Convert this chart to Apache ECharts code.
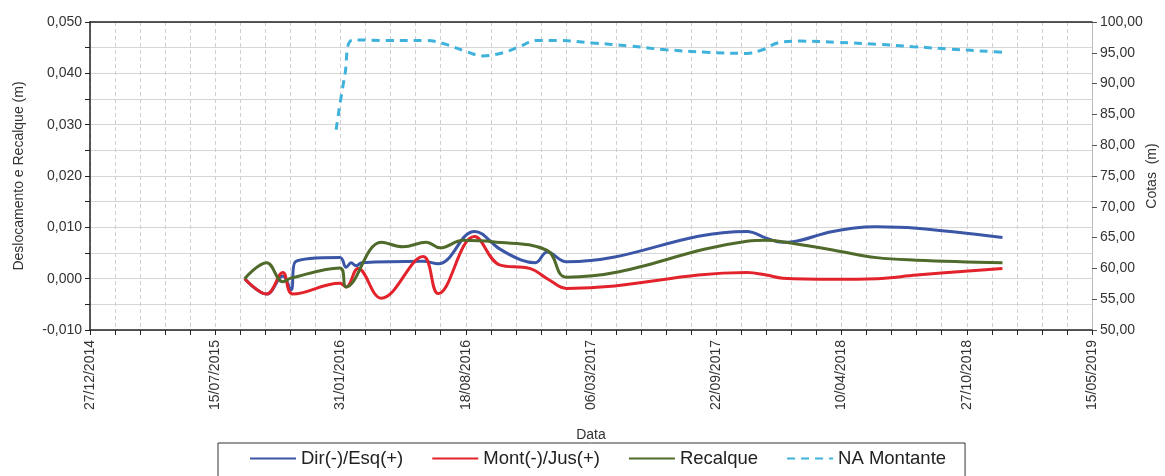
<!DOCTYPE html>
<html>
<head>
<meta charset="utf-8">
<script src="https://cdn.jsdelivr.net/npm/echarts@6/dist/echarts.min.js"></script>
<style>
  html, body { margin: 0; padding: 0; background: #fff; }
  #chart { width: 1165px; height: 476px; }
</style>
</head>
<body>
<div id="chart"></div>
<script>
// Axis origin date and tick labels (every 200 days)
const axisStart = '2014-12-27';
const axisEndDays = 1600;

// Dir(-)/Esq(+) displacement (m)
const dirDates = ['2015-08-31','2015-10-05','2015-10-31','2015-11-13','2015-11-20','2016-01-30','2016-02-09','2016-02-17','2016-02-25','2016-03-05','2016-06-11','2016-07-05','2016-09-01','2016-10-11','2016-11-15','2016-12-07','2016-12-26','2017-01-26','2017-11-10','2017-12-11','2018-01-06','2018-01-22','2018-03-27','2018-06-05','2018-08-08','2018-12-23'];
const dirValues = [0, -0.0030, 0.0005, -0.0022, 0.0033, 0.0041, 0.0022, 0.0031, 0.0025, 0.0031, 0.0034, 0.0029, 0.0092, 0.0058, 0.0036, 0.0031, 0.0052, 0.0033, 0.0092, 0.0079, 0.0071, 0.0072, 0.0092, 0.0101, 0.0098, 0.0080];

// Mont(-)/Jus(+) displacement (m)
const montDates = ['2015-08-31','2015-10-05','2015-10-31','2015-11-16','2016-01-30','2016-02-09','2016-02-28','2016-04-05','2016-06-11','2016-07-05','2016-09-01','2016-10-11','2016-11-28','2016-12-30','2017-01-26','2017-11-10','2017-12-11','2018-01-06','2018-03-27','2018-06-05','2018-08-08','2018-12-23'];
const montValues = [0, -0.0030, 0.0012, -0.0030, -0.0009, -0.0016, 0.0020, -0.0038, 0.0043, -0.0029, 0.0082, 0.0027, 0.0020, -0.0003, -0.0019, 0.0012, 0.0007, 0.0001, -0.0001, 0.0000, 0.0007, 0.0020];

// Recalque (settlement, m)
const recDates = ['2015-08-31','2015-10-05','2015-10-31','2015-11-13','2016-01-30','2016-02-09','2016-04-05','2016-05-10','2016-06-16','2016-07-08','2016-08-14','2016-09-30','2016-12-26','2017-01-26','2017-11-10','2017-12-11','2018-01-06','2018-03-27','2018-06-05','2018-08-08','2018-12-23'];
const recValues = [0, 0.0031, -0.0006, 0.0001, 0.0021, -0.0016, 0.0071, 0.0062, 0.0071, 0.0060, 0.0075, 0.0072, 0.0055, 0.0003, 0.0073, 0.0075, 0.0072, 0.0056, 0.0041, 0.0036, 0.0031];

// NA Montante (upstream water level, m)
const naDates = ['2016-01-24','2016-02-07','2016-02-20','2016-04-13','2016-06-16','2016-07-13','2016-08-19','2016-09-14','2016-10-16','2016-11-12','2016-12-09','2017-01-10','2017-03-09','2017-05-07','2017-07-04','2017-09-06','2017-11-09','2017-12-05','2017-12-29','2018-02-02','2018-04-04','2018-06-05','2018-08-02','2018-10-02','2018-12-05','2018-12-23'];
const naValues = [82.5, 91.4, 97.1, 97.0, 97.0, 96.5, 95.2, 94.5, 95.0, 96.0, 97.0, 97.0, 96.6, 96.1, 95.5, 95.1, 94.9, 95.5, 96.6, 96.9, 96.7, 96.4, 96.0, 95.6, 95.2, 95.1];

const DAY = 86400000;
function toUTC(s) {
  const p = s.split('-').map(Number);
  return Date.UTC(p[0], p[1] - 1, p[2]);
}
const base = toUTC(axisStart);
function dayOffset(s) { return Math.round((toUTC(s) - base) / DAY); }
function pairs(dates, values) { return dates.map((d, i) => [dayOffset(d), values[i]]); }
function pad(n) { return (n < 10 ? '0' : '') + n; }
function fmtDate(v) {
  const d = new Date(base + v * DAY);
  return pad(d.getUTCDate()) + '/' + pad(d.getUTCMonth() + 1) + '/' + d.getUTCFullYear();
}

const FONT = '"Liberation Sans", Arial, sans-serif';
const chart = echarts.init(document.getElementById('chart'), null, { renderer: 'canvas' });

function lineSeries(name, data, color, yIdx, dashed) {
  return {
    name: name,
    type: 'line',
    yAxisIndex: yIdx,
    data: data,
    smooth: 0.4,
    symbol: 'none',
    showSymbol: false,
    lineStyle: { color: color, width: 3, type: dashed ? [8, 6] : 'solid' },
    itemStyle: { color: color },
    animation: false
  };
}

chart.setOption({
  animation: false,
  textStyle: { fontFamily: FONT },
  grid: { left: 90, right: 73, top: 22, bottom: 146, containLabel: false, outerBoundsMode: 'none' },
  legend: {
    left: 218, top: 443,
    padding: [6, 19, 12, 31],
    itemGap: 28,
    itemWidth: 46, itemHeight: 14,
    borderColor: '#333', borderWidth: 1,
    itemStyle: { opacity: 0 },
    textStyle: { fontFamily: FONT, fontSize: 18.5, color: '#222' },
    data: ['Dir(-)/Esq(+)', 'Mont(-)/Jus(+)', 'Recalque', 'NA Montante']
  },
  xAxis: [{
    type: 'value',
    min: 0, max: axisEndDays, interval: 200,
    name: 'Data', nameLocation: 'middle', nameGap: 98,
    nameTextStyle: { fontFamily: FONT, fontSize: 14, color: '#333' },
    axisLine: { show: true, onZero: false, lineStyle: { color: '#222', width: 1.5 } },
    axisTick: { show: true, inside: false, length: 5, lineStyle: { color: '#222' } },
    minorTick: { show: true, splitNumber: 5, length: 5, lineStyle: { color: '#222' } },
    splitLine: { show: true, lineStyle: { color: '#cfcfcf', type: [4, 3] } },
    minorSplitLine: { show: true, lineStyle: { color: '#cfcfcf', type: [4, 3] } },
    axisLabel: {
      rotate: 90, fontSize: 14, color: '#333', fontFamily: FONT, margin: 10,
      showMinLabel: true, showMaxLabel: true,
      formatter: fmtDate
    }
  }, {
    type: 'value', position: 'top',
    min: 0, max: axisEndDays,
    axisLine: { show: true, onZero: false, lineStyle: { color: '#222', width: 1.5 } },
    axisTick: { show: false }, axisLabel: { show: false }, splitLine: { show: false }
  }],
  yAxis: [{
    type: 'value',
    min: -0.01, max: 0.05, interval: 0.01,
    name: 'Deslocamento e Recalque (m)', nameLocation: 'middle', nameGap: 64, nameRotate: 90,
    nameTextStyle: { fontFamily: FONT, fontSize: 14, color: '#333' },
    axisLine: { show: true, onZero: false, lineStyle: { color: '#222', width: 1.5 } },
    axisTick: { show: true, length: 5, lineStyle: { color: '#222' } },
    minorTick: { show: true, splitNumber: 2, length: 5, lineStyle: { color: '#222' } },
    splitLine: { show: true, lineStyle: { color: '#d6d6d6', width: 1 } },
    minorSplitLine: { show: true, lineStyle: { color: '#d6d6d6', width: 1 } },
    axisLabel: {
      fontSize: 14, color: '#333', fontFamily: FONT, margin: 8,
      formatter: v => v.toFixed(3).replace('.', ',')
    }
  }, {
    type: 'value', position: 'right',
    min: 50, max: 100, interval: 5,
    name: 'Cotas  (m)', nameLocation: 'middle', nameGap: 53, nameRotate: 90,
    nameMoveOverlap: false,
    nameTextStyle: { fontFamily: FONT, fontSize: 14, color: '#333' },
    axisLine: { show: true, onZero: false, lineStyle: { color: '#bbb', width: 1 } },
    axisTick: { show: true, length: 5, lineStyle: { color: '#555' } },
    splitLine: { show: false },
    axisLabel: {
      fontSize: 14, color: '#333', fontFamily: FONT, margin: 8,
      formatter: v => v.toFixed(2).replace('.', ',')
    }
  }],
  series: [
    lineSeries('Dir(-)/Esq(+)', pairs(dirDates, dirValues), '#3b56a6', 0, false),
    lineSeries('Mont(-)/Jus(+)', pairs(montDates, montValues), '#e3232c', 0, false),
    lineSeries('Recalque', pairs(recDates, recValues), '#4f6a2a', 0, false),
    lineSeries('NA Montante', pairs(naDates, naValues), '#3fb2dc', 1, true)
  ]
});
</script>
</body>
</html>
